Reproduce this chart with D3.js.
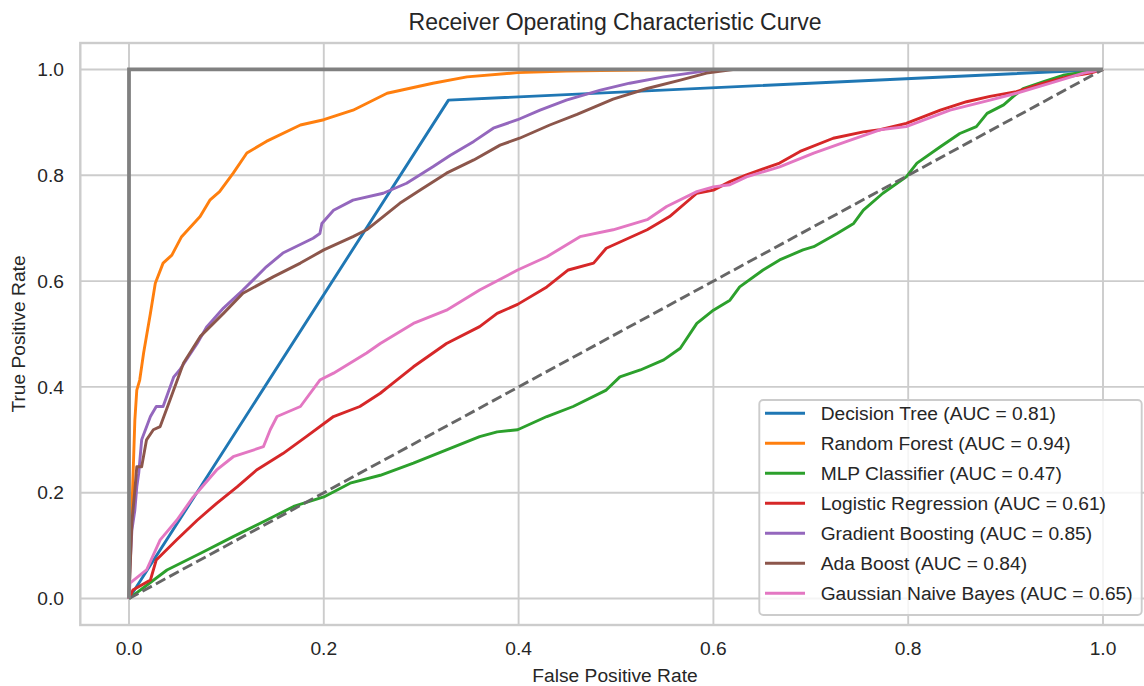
<!DOCTYPE html>
<meta charset="utf-8">
<style>
  body { margin: 0; background: #fff; }
  svg { font-family: "Liberation Sans", Arial, sans-serif; }
  .grid line { stroke: #cccccc; stroke-width: 1.9px; }
  .tick-label { fill: #262626; font-size: 19.2px; }
  .model { fill: none; stroke-width: 2.9px; stroke-linejoin: round; }
</style>
<svg width="1144" height="686"></svg>
<script src="https://d3js.org/d3.v7.min.js"></script>
<script>

// ROC points [fpr, tpr]
var decisionTree = [[0,0],[0.328,0.942],[1,1]];

var randomForest = [[0,0],[0.001,0.08],[0.003,0.167],[0.006,0.337],[0.008,0.394],[0.011,0.413],
  [0.015,0.464],[0.022,0.539],[0.027,0.596],[0.035,0.634],[0.044,0.649],[0.054,0.684],
  [0.073,0.722],[0.083,0.753],[0.093,0.769],[0.107,0.804],[0.121,0.842],[0.141,0.864],
  [0.176,0.895],[0.200,0.905],[0.230,0.923],[0.265,0.955],[0.312,0.974],[0.347,0.986],
  [0.399,0.994],[0.449,0.997],[0.484,0.998],[0.566,1],[1,1]];

var mlpClassifier = [[0,0],[0.039,0.054],[0.073,0.085],[0.107,0.117],[0.141,0.148],[0.169,0.174],
  [0.200,0.192],[0.227,0.218],[0.258,0.233],[0.292,0.256],[0.326,0.281],[0.360,0.306],
  [0.378,0.315],[0.399,0.319],[0.429,0.344],[0.456,0.363],[0.490,0.394],[0.504,0.419],
  [0.525,0.432],[0.549,0.451],[0.566,0.473],[0.583,0.520],[0.600,0.545],[0.617,0.564],
  [0.627,0.589],[0.651,0.621],[0.668,0.640],[0.692,0.659],[0.703,0.665],[0.727,0.690],
  [0.744,0.709],[0.754,0.734],[0.774,0.766],[0.798,0.797],[0.809,0.823],[0.833,0.854],
  [0.853,0.879],[0.870,0.892],[0.881,0.917],[0.898,0.933],[0.908,0.949],[0.918,0.964],
  [0.939,0.977],[0.959,0.989],[0.980,0.995],[1,1]];

var logisticRegression = [[0,0],[0.004,0.016],[0.022,0.035],[0.028,0.073],[0.049,0.111],[0.070,0.148],
  [0.090,0.180],[0.111,0.211],[0.131,0.243],[0.158,0.274],[0.182,0.306],[0.210,0.344],
  [0.237,0.363],[0.258,0.388],[0.271,0.407],[0.292,0.438],[0.326,0.482],[0.360,0.514],
  [0.378,0.539],[0.399,0.556],[0.429,0.589],[0.451,0.621],[0.477,0.634],[0.490,0.662],
  [0.532,0.697],[0.555,0.722],[0.583,0.766],[0.600,0.772],[0.617,0.788],[0.634,0.801],
  [0.668,0.823],[0.689,0.845],[0.723,0.870],[0.754,0.882],[0.771,0.886],[0.798,0.898],
  [0.833,0.923],[0.860,0.939],[0.884,0.949],[0.911,0.958],[0.939,0.974],[0.963,0.986],
  [0.987,0.993],[1,1]];

var gradientBoosting = [[0,0],[0.001,0.06],[0.003,0.13],[0.006,0.167],[0.008,0.211],[0.010,0.237],
  [0.013,0.300],[0.022,0.344],[0.028,0.363],[0.035,0.363],[0.046,0.419],[0.052,0.432],
  [0.070,0.482],[0.080,0.514],[0.097,0.549],[0.117,0.583],[0.141,0.627],[0.158,0.653],
  [0.189,0.681],[0.196,0.690],[0.198,0.709],[0.210,0.734],[0.230,0.753],[0.261,0.766],
  [0.285,0.785],[0.312,0.816],[0.330,0.838],[0.354,0.864],[0.374,0.889],[0.399,0.905],
  [0.422,0.923],[0.449,0.942],[0.484,0.961],[0.514,0.974],[0.549,0.986],[0.583,0.995],
  [0.600,1],[1,1]];

var adaBoost = [[0,0],[0.003,0.145],[0.006,0.205],[0.008,0.249],[0.013,0.249],[0.018,0.300],
  [0.025,0.319],[0.032,0.325],[0.042,0.375],[0.056,0.445],[0.073,0.495],[0.097,0.539],
  [0.117,0.577],[0.148,0.608],[0.176,0.634],[0.200,0.659],[0.230,0.684],[0.244,0.697],
  [0.261,0.722],[0.278,0.747],[0.299,0.772],[0.326,0.804],[0.354,0.829],[0.381,0.857],
  [0.401,0.870],[0.432,0.895],[0.460,0.915],[0.497,0.944],[0.532,0.964],[0.566,0.980],
  [0.593,0.993],[0.620,1],[1,1]];

var gaussianNB = [[0,0],[0.001,0.029],[0.018,0.054],[0.032,0.111],[0.049,0.148],[0.066,0.192],
  [0.090,0.243],[0.107,0.268],[0.138,0.287],[0.145,0.319],[0.152,0.344],[0.176,0.363],
  [0.196,0.413],[0.210,0.426],[0.244,0.464],[0.258,0.482],[0.292,0.520],[0.326,0.545],
  [0.360,0.583],[0.399,0.621],[0.429,0.646],[0.463,0.684],[0.497,0.697],[0.532,0.716],
  [0.552,0.741],[0.583,0.769],[0.600,0.778],[0.617,0.782],[0.634,0.797],[0.668,0.816],
  [0.703,0.842],[0.737,0.864],[0.771,0.886],[0.798,0.892],[0.843,0.923],[0.884,0.942],
  [0.911,0.955],[0.946,0.974],[0.980,0.993],[1,1]];

var modelNames = ["Decision Tree", "Random Forest", "MLP Classifier", "Logistic Regression",
                  "Gradient Boosting", "Ada Boost", "Gaussian Naive Bayes"];
var aucValues = [0.81, 0.94, 0.47, 0.61, 0.85, 0.84, 0.65];
var modelCurves = [decisionTree, randomForest, mlpClassifier, logisticRegression,
                   gradientBoosting, adaBoost, gaussianNB];
var perfectCurve = [[0,0],[0,1],[1,1]];
var chanceLine = [[0,0],[1,1]];
var tickValues = [0, 0.2, 0.4, 0.6, 0.8, 1.0];

var colors = ["#1f77b4", "#ff7f0e", "#2ca02c", "#d62728", "#9467bd", "#8c564b", "#e377c2"];

var svg = d3.select("svg"),
    box = {left: 80.3, right: 1151.7, top: 43, bottom: 625};

var x = d3.scaleLinear().domain([-0.05, 1.05]).range([box.left, box.right]),
    y = d3.scaleLinear().domain([-0.05, 1.05]).range([box.bottom, box.top]);

svg.append("rect").attr("width", 1144).attr("height", 686).attr("fill", "#fff");

svg.append("defs").append("clipPath").attr("id", "clip")
  .append("rect")
    .attr("x", box.left).attr("y", box.top)
    .attr("width", box.right - box.left).attr("height", box.bottom - box.top);

// grid
var grid = svg.append("g").attr("class", "grid");
grid.selectAll(".gx").data(tickValues).enter().append("line")
    .attr("x1", function(d) { return x(d); }).attr("x2", function(d) { return x(d); })
    .attr("y1", box.top).attr("y2", box.bottom);
grid.selectAll(".gy").data(tickValues).enter().append("line")
    .attr("y1", function(d) { return y(d); }).attr("y2", function(d) { return y(d); })
    .attr("x1", box.left).attr("x2", box.right);

// tick labels
svg.append("g").selectAll("text").data(tickValues).enter().append("text")
    .attr("class", "tick-label")
    .attr("x", function(d) { return x(d); })
    .attr("y", 655)
    .attr("text-anchor", "middle")
    .text(d3.format(".1f"));

svg.append("g").selectAll("text").data(tickValues).enter().append("text")
    .attr("class", "tick-label")
    .attr("x", 64)
    .attr("y", function(d) { return y(d); })
    .attr("dy", "0.35em")
    .attr("text-anchor", "end")
    .text(d3.format(".1f"));

var line = d3.line()
    .x(function(d) { return x(d[0]); })
    .y(function(d) { return y(d[1]); });

var plot = svg.append("g").attr("clip-path", "url(#clip)");

plot.selectAll(".model").data(modelCurves).enter().append("path")
    .attr("class", "model")
    .attr("stroke", function(d, i) { return colors[i]; })
    .attr("d", line);

plot.append("path")
    .datum(chanceLine)
    .attr("fill", "none")
    .attr("stroke", "#666")
    .attr("stroke-width", 2.9)
    .attr("stroke-dasharray", "10.7,4.6")
    .attr("d", line);

plot.append("path")
    .datum(perfectCurve)
    .attr("fill", "none")
    .attr("stroke", "#808080")
    .attr("stroke-width", 3.8)
    .attr("d", line);

// spines
svg.append("rect")
    .attr("x", box.left).attr("y", box.top)
    .attr("width", box.right - box.left).attr("height", box.bottom - box.top)
    .attr("fill", "none").attr("stroke", "#cccccc").attr("stroke-width", 2.4);

// titles
svg.append("text")
    .attr("x", 615).attr("y", 30)
    .attr("text-anchor", "middle")
    .attr("fill", "#262626")
    .style("font-size", "23px")
    .text("Receiver Operating Characteristic Curve");

svg.append("text")
    .attr("x", 615).attr("y", 682)
    .attr("text-anchor", "middle")
    .attr("fill", "#262626")
    .style("font-size", "19.2px")
    .text("False Positive Rate");

svg.append("text")
    .attr("transform", "translate(25,334) rotate(-90)")
    .attr("text-anchor", "middle")
    .attr("fill", "#262626")
    .style("font-size", "19.2px")
    .text("True Positive Rate");

// legend
var legend = svg.append("g");
legend.append("rect")
    .attr("x", 759.3).attr("y", 400)
    .attr("width", 382.4).attr("height", 215)
    .attr("rx", 4)
    .attr("fill", "#fff").attr("fill-opacity", 0.8)
    .attr("stroke", "#cccccc").attr("stroke-width", 1.9);

var rows = legend.selectAll(".row").data(modelNames).enter().append("g")
    .attr("transform", function(d, i) { return "translate(0," + (413.3 + i * 30) + ")"; });

rows.append("line")
    .attr("x1", 765).attr("x2", 805)
    .attr("stroke", function(d, i) { return colors[i]; })
    .attr("stroke-width", 2.9);

rows.append("text")
    .attr("x", 820.7)
    .attr("dy", "0.35em")
    .attr("fill", "#262626")
    .style("font-size", "19.2px")
    .text(function(d, i) { return d + " (AUC = " + aucValues[i].toFixed(2) + ")"; });

</script>
